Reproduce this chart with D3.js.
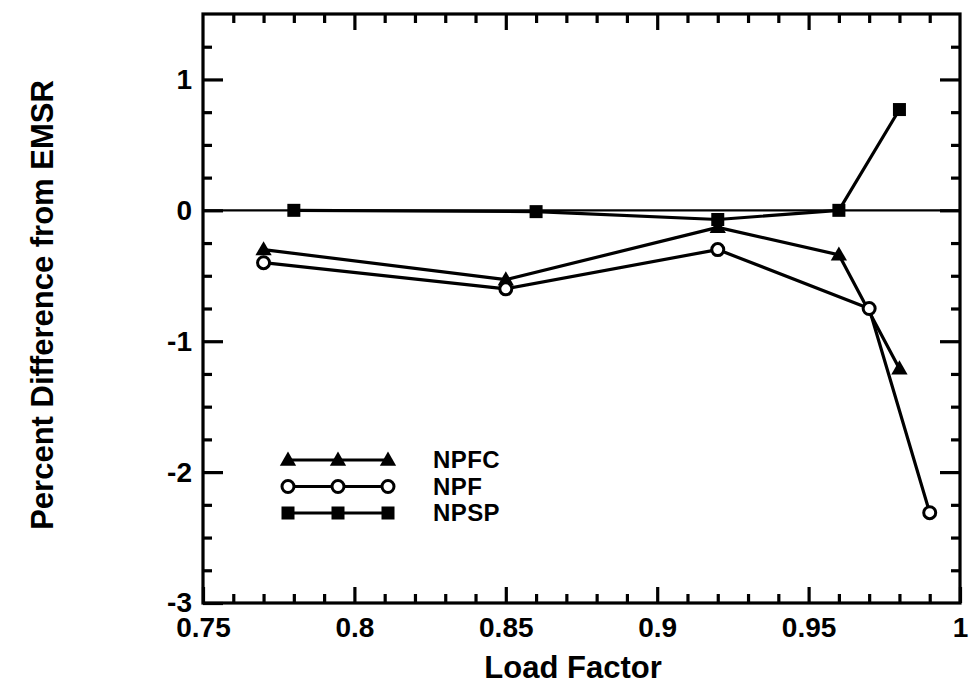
<!DOCTYPE html>
<html>
<head>
<meta charset="utf-8">
<script src="https://cdn.jsdelivr.net/npm/d3@7"></script>
<style>
  html, body { margin: 0; padding: 0; background: #fff; }
  svg { display: block; font-family: "Liberation Sans", Arial, Helvetica, sans-serif; font-weight: bold; }
</style>
</head>
<body>
<svg id="chart" width="978" height="686"></svg>
<script>
// Load factor at which each method was run
const npfcX = [0.77, 0.85, 0.92, 0.96, 0.98];
const npfcY = [-0.30, -0.53, -0.13, -0.34, -1.21];

const npfX = [0.77, 0.85, 0.92, 0.97, 0.99];
const npfY = [-0.40, -0.60, -0.30, -0.75, -2.31];

const npspX = [0.78, 0.86, 0.92, 0.96, 0.98];
const npspY = [0.00, -0.01, -0.07, 0.00, 0.77];

const seriesNames = ["NPFC", "NPF", "NPSP"];
const seriesMarkers = ["triangle", "circle", "square"];

const xMajorTicks = [0.75, 0.8, 0.85, 0.9, 0.95, 1];
const yMajorTicks = [-3, -2, -1, 0, 1];

const xDomain = [0.75, 1.0];
const yDomain = [-3, 1.5];

const svg = d3.select("#chart");
const margin = { left: 203, right: 18, top: 14, bottom: 83 };
const W = 978, H = 686;
const iw = W - margin.left - margin.right;
const ih = H - margin.top - margin.bottom;

const x = d3.scaleLinear().domain(xDomain).range([0, iw]);
const y = d3.scaleLinear().domain(yDomain).range([ih, 0]);

const g = svg.append("g").attr("transform", `translate(${margin.left},${margin.top})`);

// Minor tick positions
const xMinor = d3.range(76, 100).map(v => v / 100).filter(v => !xMajorTicks.some(t => Math.abs(t - v) < 1e-9));
const yMinor = d3.range(-11, 6).map(v => v / 4).filter(v => !Number.isInteger(v) && v < 1.5 && v > -3);

const fmt = d => String(+d.toFixed(2));
const majorLen = 16, minorLen = 9;
const tickFont = 28;

function styleAxis(sel) {
  sel.attr("font-family", null).attr("font-size", null);
  sel.select(".domain").remove();
  sel.selectAll(".tick line").attr("stroke", "#000").attr("stroke-width", 3.2);
  sel.selectAll(".tick text").attr("fill", "#000").style("font-size", tickFont + "px").style("font-weight", "bold");
}

// Bottom axis (ticks point inward)
g.append("g").attr("transform", `translate(0,${ih})`)
  .call(d3.axisBottom(x).tickValues(xMajorTicks).tickFormat(fmt).tickSize(-majorLen).tickPadding(14))
  .call(styleAxis);
g.append("g").attr("transform", `translate(0,${ih})`)
  .call(d3.axisBottom(x).tickValues(xMinor).tickFormat("").tickSize(-minorLen))
  .call(styleAxis);
// Top axis
g.append("g")
  .call(d3.axisTop(x).tickValues(xMajorTicks.slice(1, -1)).tickFormat("").tickSize(-majorLen))
  .call(styleAxis);
g.append("g")
  .call(d3.axisTop(x).tickValues(xMinor).tickFormat("").tickSize(-minorLen))
  .call(styleAxis);

// Left axis
g.append("g")
  .call(d3.axisLeft(y).tickValues(yMajorTicks).tickFormat(d => String(d)).tickSize(-20).tickPadding(11))
  .call(styleAxis);
g.append("g")
  .call(d3.axisLeft(y).tickValues(yMinor).tickFormat("").tickSize(-minorLen))
  .call(styleAxis);
// Right axis
g.append("g").attr("transform", `translate(${iw},0)`)
  .call(d3.axisRight(y).tickValues(yMajorTicks.slice(1)).tickFormat("").tickSize(-20))
  .call(styleAxis);
g.append("g").attr("transform", `translate(${iw},0)`)
  .call(d3.axisRight(y).tickValues(yMinor).tickFormat("").tickSize(-minorLen))
  .call(styleAxis);

// Plot frame
g.append("rect").attr("x", 0).attr("y", 0).attr("width", iw).attr("height", ih)
  .attr("fill", "none").attr("stroke", "#000").attr("stroke-width", 3.2);

// Zero reference line
g.append("line").attr("x1", 0).attr("x2", iw).attr("y1", y(0)).attr("y2", y(0))
  .attr("stroke", "#000").attr("stroke-width", 2.2);

const line = d3.line().x(d => x(d[0])).y(d => y(d[1]));

function drawMarker(sel, type, cx, cy) {
  if (type === "triangle") {
    sel.append("path")
      .attr("d", d3.symbol(d3.symbolTriangle, 115)())
      .attr("transform", `translate(${cx},${cy + 1})`)
      .attr("fill", "#000");
  } else if (type === "circle") {
    sel.append("circle").attr("cx", cx).attr("cy", cy).attr("r", 6)
      .attr("fill", "#fff").attr("stroke", "#000").attr("stroke-width", 3);
  } else {
    sel.append("rect").attr("x", cx - 6.5).attr("y", cy - 6.5).attr("width", 13).attr("height", 13)
      .attr("fill", "#000");
  }
}

const series = [
  { name: seriesNames[0], marker: seriesMarkers[0], pts: d3.zip(npfcX, npfcY) },
  { name: seriesNames[1], marker: seriesMarkers[1], pts: d3.zip(npfX, npfY) },
  { name: seriesNames[2], marker: seriesMarkers[2], pts: d3.zip(npspX, npspY) }
];

series.forEach(s => {
  g.append("path").datum(s.pts).attr("d", line)
    .attr("fill", "none").attr("stroke", "#000").attr("stroke-width", 3.2).attr("stroke-linejoin", "round");
});
series.forEach(s => {
  const mg = g.append("g");
  s.pts.forEach(p => drawMarker(mg, s.marker, x(p[0]), y(p[1])));
});

// Legend
const legend = svg.append("g");
series.forEach((s, i) => {
  const ly = 460 + i * 26.5;
  legend.append("line").attr("x1", 288).attr("x2", 388).attr("y1", ly).attr("y2", ly)
    .attr("stroke", "#000").attr("stroke-width", 3);
  [288, 338, 388].forEach(lx => drawMarker(legend, s.marker, lx, ly));
  legend.append("text").attr("x", 433).attr("y", ly + 8)
    .style("font-size", "24px").style("letter-spacing", "0.4px").attr("fill", "#000").text(s.name);
});

// Axis titles
svg.append("text").attr("x", 573).attr("y", 678).attr("text-anchor", "middle")
  .style("font-size", "31px").attr("fill", "#000").text("Load Factor");
svg.append("text").attr("transform", "translate(53,305) rotate(-90)").attr("text-anchor", "middle")
  .style("font-size", "31px").attr("fill", "#000").text("Percent Difference from EMSR");
</script>
</body>
</html>
